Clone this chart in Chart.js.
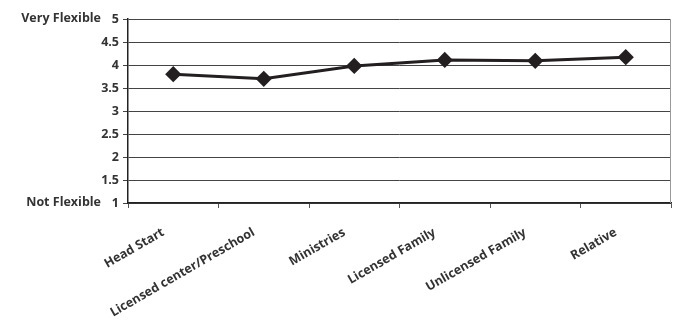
<!DOCTYPE html>
<html lang="en">
<head>
    <meta charset="UTF-8">
    <title>Flexibility</title>
    <script src="https://cdn.jsdelivr.net/npm/chart.js"></script>
    <style>
        body { margin: 0; background: #fff; overflow: hidden; }
        #wrap { width: 680px; height: 322px; }
    </style>
</head>
<body>
    <div id="wrap"><canvas id="flexChart"></canvas></div>

    <script>
        const categories = ["Head Start", "Licensed center/Preschool", "Ministries", "Licensed Family", "Unlicensed Family", "Relative"];
        const scores = [3.80, 3.70, 3.98, 4.11, 4.09, 4.17];
        const yTicks = [1, 1.5, 2, 2.5, 3, 3.5, 4, 4.5, 5];
        const endLabels = { 5: "Very Flexible", 1: "Not Flexible" };

        const fontFamily = "'Open Sans', 'DejaVu Sans', sans-serif";
        const textColor = '#333333';

        // writes "Very Flexible" / "Not Flexible" next to the ends of the y axis,
        // and the thin frame line on the right of the plot
        const endLabelPlugin = {
            id: 'endLabels',
            afterDraw(chart) {
                const ctx = chart.ctx;
                const y = chart.scales.y;
                const area = chart.chartArea;
                ctx.save();
                ctx.font = "bold 12.5px " + fontFamily;
                ctx.fillStyle = textColor;
                ctx.textAlign = 'right';
                ctx.textBaseline = 'middle';
                for (const v in endLabels) {
                    ctx.fillText(endLabels[v], 101, y.getPixelForValue(Number(v)) - 1);
                }
                ctx.strokeStyle = '#999';
                ctx.lineWidth = 1;
                ctx.beginPath();
                ctx.moveTo(area.right - 0.5, area.top);
                ctx.lineTo(area.right - 0.5, area.bottom);
                ctx.stroke();
                ctx.restore();
            }
        };

        const ctx = document.getElementById('flexChart').getContext('2d');
        new Chart(ctx, {
            type: 'line',
            data: {
                labels: categories,
                datasets: [{
                    data: scores,
                    borderColor: '#231f20',
                    borderWidth: 3,
                    pointStyle: 'rectRot',
                    pointRadius: 6,
                    pointBackgroundColor: '#231f20',
                    pointBorderColor: '#231f20',
                    tension: 0,
                    fill: false
                }]
            },
            options: {
                responsive: true,
                maintainAspectRatio: false,
                animation: false,
                layout: { padding: { top: 19, right: 0, left: 0, bottom: 0 } },
                plugins: {
                    legend: { display: false },
                    tooltip: { enabled: false }
                },
                scales: {
                    x: {
                        offset: true,
                        grid: {
                            offset: true,
                            drawOnChartArea: false,
                            drawTicks: true,
                            tickLength: 5,
                            color: '#555'
                        },
                        border: { color: '#222', width: 1.5 },
                        ticks: {
                            minRotation: 30,
                            maxRotation: 30,
                            autoSkip: false,
                            color: textColor,
                            font: { family: fontFamily, size: 12.5, weight: 'bold' },
                            padding: 17,
                            labelOffset: -10
                        },
                        afterFit(scale) { scale.height = 119; }
                    },
                    y: {
                        min: 1,
                        max: 5,
                        afterBuildTicks(scale) {
                            scale.ticks = yTicks.map(v => ({ value: v }));
                        },
                        grid: {
                            color: '#444',
                            lineWidth: 1,
                            tickLength: 5
                        },
                        border: { color: '#222', width: 1.5 },
                        ticks: {
                            color: textColor,
                            font: { family: fontFamily, size: 12.5, weight: 'bold' },
                            padding: 4,
                            callback: v => String(v)
                        },
                        afterFit(scale) { scale.width = 128; }
                    }
                }
            },
            plugins: [endLabelPlugin]
        });
    </script>
</body>
</html>
